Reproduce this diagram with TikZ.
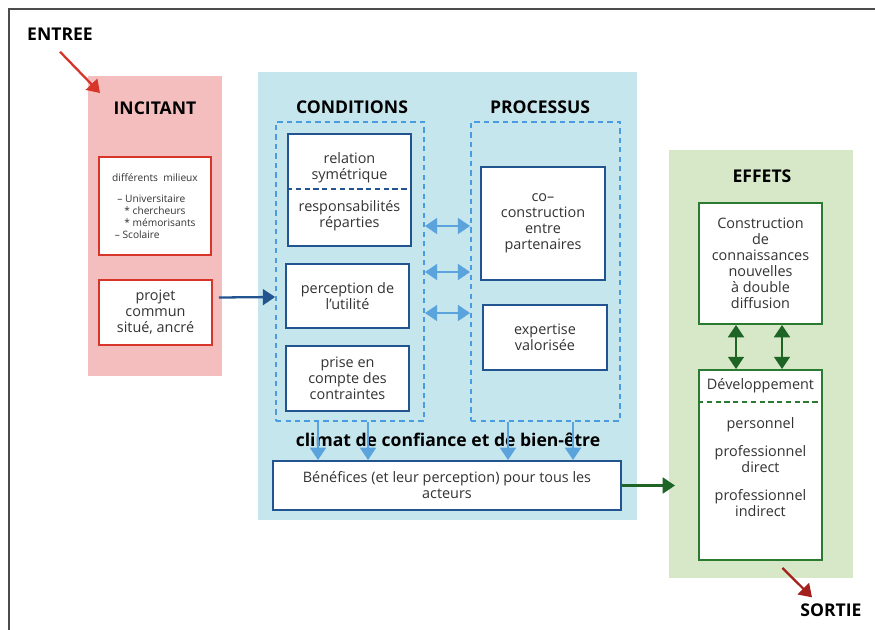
\documentclass[tikz,border=0pt]{standalone}
\usepackage{fontspec}
\setmainfont{Open Sans}
\usetikzlibrary{arrows.meta}
\definecolor{pinkbg}{HTML}{F4BEBE}
\definecolor{bluebg}{HTML}{C6E6ED}
\definecolor{greenbg}{HTML}{D6E8C8}
\definecolor{boxred}{HTML}{D8352A}
\definecolor{boxblue}{HTML}{22548F}
\definecolor{dashblue}{HTML}{4A9BE0}
\definecolor{lightarrow}{HTML}{5BA3DC}
\definecolor{boxgreen}{HTML}{2A7A30}
\definecolor{darkgreen}{HTML}{1E6425}
\definecolor{darkred}{HTML}{A3201C}

\begin{document}
\begin{tikzpicture}[x=0.02cm,y=-0.02cm,>={Triangle[length=7pt,width=9pt]},
  panel/.style={inner sep=0pt,outer sep=0pt},
  title node/.style={font=\bfseries\fontsize{10}{12}\selectfont},
  box/.style={draw,fill=white,line width=1.1pt,align=center,inner sep=2pt,text=black!80,font=\fontsize{8.2}{9.1}\selectfont},
  red box/.style={box,draw=boxred},
  blue box/.style={box,draw=boxblue},
  green box/.style={box,draw=boxgreen},
  dash box/.style={draw=dashblue,line width=1pt,dash pattern=on 3pt off 2.4pt,inner sep=0pt},
  txt node/.style={align=center,text=black!80,font=\fontsize{8.2}{9.1}\selectfont}]

  \useasboundingbox (0,0) rectangle (875,629);
  \clip (0,0) rectangle (875,629);
  \draw[line width=1.3pt,black!70] (9,9) rectangle (900,660);

  % panels
  \node[panel,fill=pinkbg,minimum width=2.68cm,minimum height=6cm] (incit) at (155,226) {};
  \node[panel,fill=bluebg,minimum width=7.58cm,minimum height=8.96cm] (middle) at (447.5,296) {};
  \node[panel,fill=greenbg,minimum width=3.68cm,minimum height=8.56cm] (effets) at (761,364) {};

  % titles
  \node[title node] (entree) at (60,34) {ENTREE};
  \node[title node] (incitT) at (155,108) {INCITANT};
  \node[title node] (condT) at (352,107) {CONDITIONS};
  \node[title node] (procT) at (540,107) {PROCESSUS};
  \node[title node] (effT) at (762,176) {EFFETS};
  \node[title node] (sortie) at (831,610) {SORTIE};
  \node[title node] (climat) at (448,440) {climat de confiance et de bien-être};

  % incitant
  \node[red box,minimum width=2.24cm,minimum height=1.96cm,align=left,font=\fontsize{5.8}{6.8}\selectfont] (milieux) at (155,206)
    {différents\ \ milieux\\[5pt]\ \ – Universitaire\\\hspace{1.2em}* chercheurs\\\hspace{1.2em}* mémorisants\\\ – Scolaire};
  \node[red box,minimum width=2.26cm,minimum height=1.3cm] (projet) at (155.5,312.5) {projet\\commun\\situé, ancré};

  % conditions
  \node[dash box,minimum width=2.96cm,minimum height=5.98cm] (cond) at (350,271.5) {};
  \node[dash box,minimum width=2.98cm,minimum height=5.98cm] (proc) at (545.5,271.5) {};
  \node[blue box,minimum width=2.46cm,minimum height=2.24cm] (relation) at (349.5,190) {};
  \node[txt node] (relA) at (349.5,168) {relation\\symétrique};
  \node[txt node] (relB) at (349.5,216) {responsabilités\\réparties};
  \draw[boxblue,line width=1.1pt,dash pattern=on 3pt off 2pt] (relation.west |- 0,189) -- (relation.east |- 0,189);
  \node[blue box,minimum width=2.46cm,minimum height=1.28cm] (utilite) at (347.5,296) {perception de\\l’utilité};
  \node[blue box,minimum width=2.46cm,minimum height=1.3cm] (prise) at (347.5,378.5) {prise en\\compte des\\contraintes};

  % processus
  \node[blue box,minimum width=2.48cm,minimum height=2.26cm] (coco) at (543,223.5) {co–\\construction\\entre\\partenaires};
  \node[blue box,minimum width=2.48cm,minimum height=1.3cm] (expert) at (545,337.5) {expertise\\valorisée};

  \node[blue box,minimum width=6.96cm,minimum height=0.98cm] (benef) at (447,485.5) {Bénéfices (et leur perception) pour tous les\\acteurs};

  % effets
  \node[green box,minimum width=2.46cm,minimum height=2.42cm] (constr) at (760.5,263.5) {Construction\\de\\connaissances\\nouvelles\\à double\\diffusion};
  \node[green box,minimum width=2.46cm,minimum height=3.8cm] (dev) at (760.5,465) {};
  \node[txt node] (devA) at (760.5,386) {Développement};
  \draw[boxgreen,line width=1.1pt,dash pattern=on 3pt off 2pt] (dev.west |- 0,402) -- (dev.east |- 0,402);
  \node[txt node,anchor=north] (devB) at (760.5,411) {personnel\\[7pt]professionnel\\direct\\[7pt]professionnel\\indirect};

  % connectors
  \draw[->,boxred,line width=1.3pt] ([yshift=-3pt]entree.south) -- ([shift={(12,17)}]incit.north west);
  \draw[->,boxblue,line width=1.3pt] ([shift={(6,-15)}]projet.east) -- (cond.west |- 0,297);
  \foreach \y in {226,272,313}
    \draw[<->,lightarrow,line width=1.3pt] (cond.east |- 0,\y) -- (proc.west |- 0,\y);
  \foreach \x in {318,368,508,573}
    \draw[->,lightarrow,line width=1.2pt] (cond.south -| \x,0) -- (benef.north -| \x,0);
  \draw[->,darkgreen,line width=1.3pt,shorten >=-0.12cm] (benef.east) -- (effets.west |- benef.east);
  \foreach \x in {736,782}
    \draw[<->,darkgreen,line width=1.4pt] (constr.south -| \x,0) -- (dev.north -| \x,0);
  \draw[->,darkred,line width=1.3pt] ([shift={(22,7)}]dev.south) -- (sortie.north -| 812,0);
\end{tikzpicture}
\end{document}
